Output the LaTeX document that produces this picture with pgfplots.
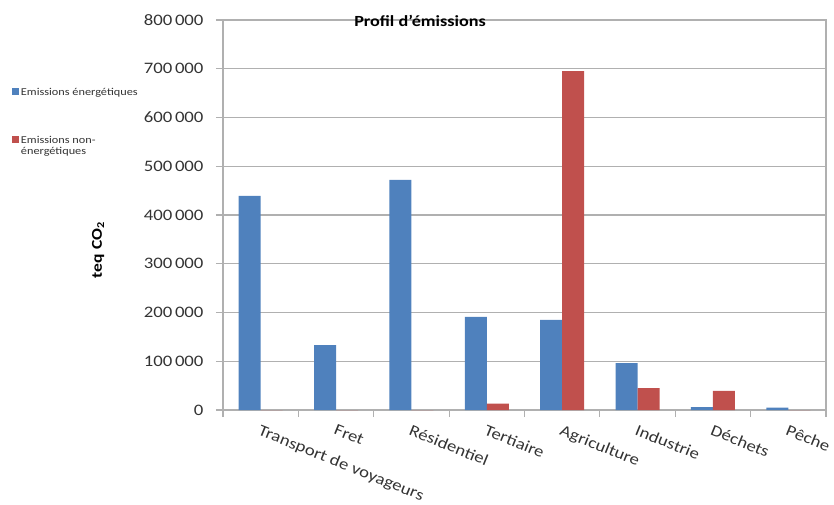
\documentclass[border=0pt]{standalone}
\usepackage{fontspec}
\setmainfont{Carlito}[FakeStretch=1.17]
\usepackage{pgfplots}
\pgfplotsset{compat=1.18}
\definecolor{eblue}{HTML}{4F81BD}
\definecolor{ered}{HTML}{C0504D}
\definecolor{gridgray}{HTML}{B0B0B0}
\definecolor{txtgray}{HTML}{333333}
\begin{document}
\begin{tikzpicture}
\useasboundingbox (0pt,0pt) rectangle (834pt,504pt);
\begin{axis}[
  at={(223pt,94pt)}, anchor=south west,
  scale only axis, width=603pt, height=390pt,
  xmin=-0.5, xmax=7.5, ymin=0, ymax=800000,
  ybar=0pt, bar width=22pt,
  axis line style={gridgray, line width=1.2pt},
  tick align=outside, tick pos=left,
  ymajorgrids, grid style={gridgray, line width=1.1pt},
  ytick distance=100000,
  major y tick style={gridgray, line width=1.1pt},
  major tick length=7pt,
  scaled y ticks=false,
  /pgf/number format/assume math mode=true,
  yticklabel={\pgfmathprintnumber[fixed,1000 sep={\,}]{\tick}},
  yticklabel style={font=\fontsize{16}{18}\selectfont, text=txtgray, xshift=-9pt},
  xtick={0,...,7},
  xticklabels={Transport de voyageurs, Fret, Résidentiel, Tertiaire, Agriculture, Industrie, Déchets, Pêche},
  major x tick style={draw=none},
  minor xtick={-0.5,0.5,...,7.5},
  minor tick length=7pt,
  minor x tick style={draw=gridgray, line width=1.2pt},
  xticklabel style={rotate=-22, anchor=north west, font=\fontsize{16}{18}\selectfont, text=txtgray, yshift=-3pt},
  title={\textbf{Profil d'émissions}},
  title style={at={(0.3267,1)}, anchor=north, yshift=2pt, font=\fontsize{15.5}{17}\selectfont},
  ylabel={\textbf{teq CO\textsubscript{2}}},
  ylabel style={at={(axis description cs:-0.207,0.41)}, anchor=center, font=\fontsize{15}{17}\selectfont},
  legend style={at={(axis description cs:-0.352,0.834)}, anchor=north west, draw=none, fill=none,
    font=\fontsize{10.5}{11}\selectfont, text=txtgray, row sep=35pt, cells={anchor=west},
    inner sep=1pt},
  legend image code/.code={\fill[#1] (0pt,-3pt) rectangle (7pt,4pt);},
]
\addplot[fill=eblue, draw=none] coordinates {(0,439000) (1,133000) (2,472000) (3,191000) (4,185000) (5,96000) (6,6000) (7,5000)};
\addplot[fill=ered, draw=none] coordinates {(0,0) (1,0) (2,0) (3,13000) (4,695000) (5,45000) (6,39000) (7,0)};
\legend{Emissions énergétiques, {\begin{tabular}[t]{@{}l@{}}Emissions non-\\énergétiques\end{tabular}}}
\end{axis}
\end{tikzpicture}
\end{document}
